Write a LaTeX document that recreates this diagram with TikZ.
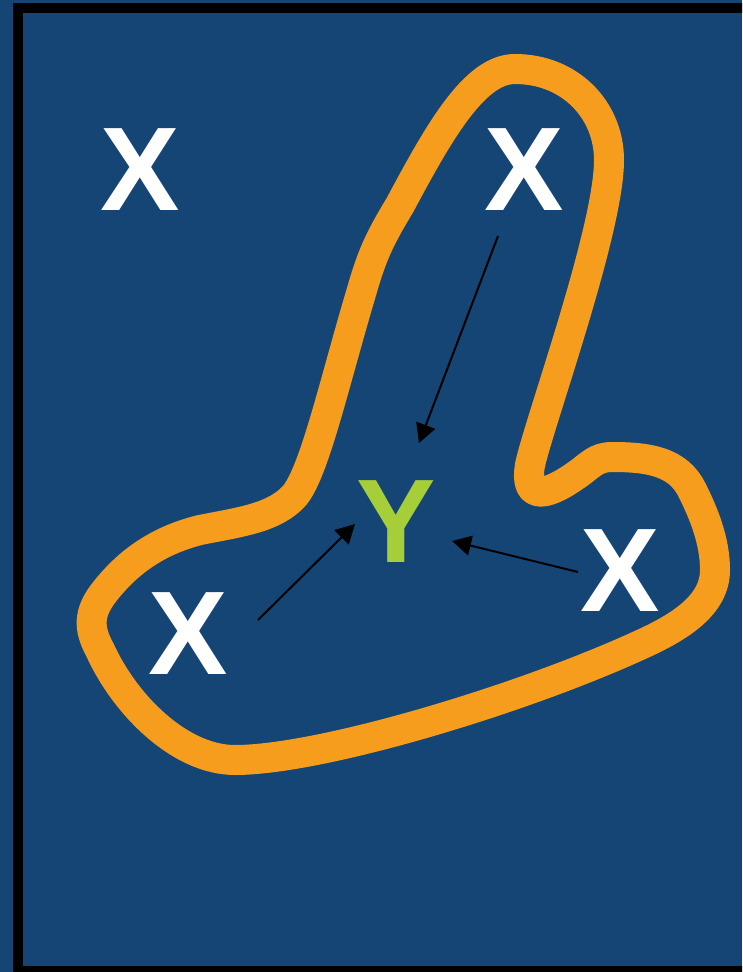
\documentclass[tikz,border=0pt]{standalone}
\usepackage{fontspec}
\setmainfont{Liberation Sans}
\usetikzlibrary{arrows.meta}
\definecolor{bgblue}{RGB}{20,69,117}
\definecolor{blobor}{RGB}{247,157,30}
\definecolor{ygreen}{RGB}{166,206,57}
\tikzset{
  letter/.style={inner sep=0pt, font=\fontsize{119}{119}\bfseries\selectfont},
  xlet/.style={letter, text=white},
  ylet/.style={letter, text=ygreen},
  conn/.style={draw=black, line width=2pt, -{Triangle[length=19pt,width=20pt]}},
  blob/.style={draw=blobor, line width=30pt, line join=round}
}
\begin{document}
\begin{tikzpicture}[x=1pt,y=-1pt]
\useasboundingbox (0,0) rectangle (742,972);
\clip (0,0) rectangle (742,972);
\fill[bgblue] (0,0) rectangle (742,972);
\draw[black, line width=10pt] (18,8) rectangle (780,971);
% orange outline
\draw[blob] (515,69)
  .. controls (570,69) and (609,110) .. (609,160)
  .. controls (609,230) and (540,420) .. (530,465)
  .. controls (524,500) and (545,497) .. (575,476)
  .. controls (590,466) and (595,457) .. (612,457)
  .. controls (650,457) and (678,462) .. (692,490)
  .. controls (703,512) and (715,540) .. (715,570)
  .. controls (715,605) and (680,627) .. (640,645)
  .. controls (520,700) and (320,760) .. (235,760)
  .. controls (180,760) and (125,705) .. (100,650)
  .. controls (88,628) and (88,612) .. (106,590)
  .. controls (130,560) and (160,540) .. (200,530)
  .. controls (240,522) and (275,518) .. (295,495)
  .. controls (315,470) and (335,380) .. (362,290)
  .. controls (372,255) and (380,238) .. (400,205)
  .. controls (440,130) and (475,69) .. cycle;
% letters
\node[xlet] (xa) at (140,170) {X};
\node[xlet] (xb) at (524,170) {X};
\node[xlet] (xc) at (620,571) {X};
\node[xlet] (xd) at (188,634) {X};
\node[ylet] (y) at (396,522) {Y};
% arrow end points
\coordinate (sb) at (498,236);
\coordinate (tb) at (419,443);
\coordinate (sd) at (258,620);
\coordinate (td) at (355,524);
\coordinate (sc) at (578,572);
\coordinate (tc) at (452,541);
\draw[conn] (sb) -- (tb);
\draw[conn] (sd) -- (td);
\draw[conn] (sc) -- (tc);
\end{tikzpicture}
\end{document}
